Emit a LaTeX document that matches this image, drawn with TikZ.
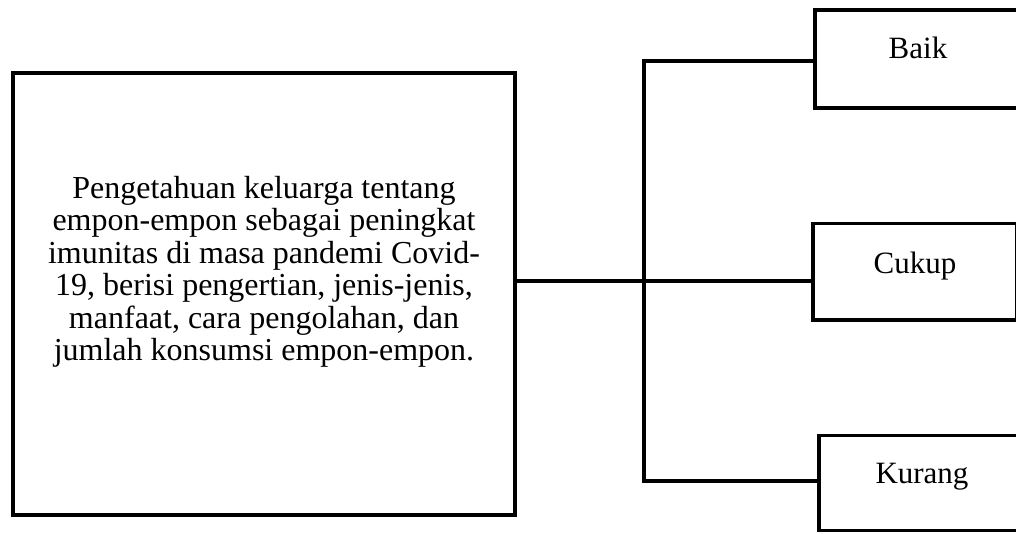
\documentclass[tikz,border=0pt]{standalone}
\usepackage{fontspec}
\setmainfont{Liberation Serif}
\tikzset{
  box/.style={draw=black, line width=3.6pt, minimum width=#1, inner sep=0pt},
  lbl/.style={font=\fontsize{31}{34}\selectfont, anchor=base},
  link/.style={line width=3.6pt}
}
\begin{document}
\begin{tikzpicture}[x=1pt, y=-1pt]
  \useasboundingbox (0,0) rectangle (1016,533);
  % --- main box ---
  \node[box=502.5pt, minimum height=442.5pt] (main) at (264,294) {};
  \node[font=\fontsize{32}{32.5}\selectfont, align=center] (desc) at (264,272)
    {Pengetahuan keluarga tentang\\
     empon-empon sebagai peningkat\\
     imunitas di masa pandemi Covid-\\
     19, berisi pengertian, jenis-jenis,\\
     manfaat, cara pengolahan, dan\\
     jumlah konsumsi empon-empon.};
  % --- categories ---
  \node[box=206pt, minimum height=98pt] (baik) at (918,59) {};
  \node[lbl] (tbaik) at (918,58) {Baik};
  \node[box=204pt, minimum height=96.5pt] (cukup) at (915,271.75) {};
  \node[lbl] (tcukup) at (915,273) {Cukup};
  \node[box=206pt, minimum height=95pt] (kurang) at (922,483) {};
  \node[lbl] (tkurang) at (922,483) {Kurang};
  % --- connectors ---
  \coordinate (jt) at (644,61);
  \coordinate (jm) at (644,281);
  \coordinate (jb) at (644,481);
  \draw[link] (main.east |- jm) -- (cukup.west |- jm);
  \draw[link] (baik.west |- jt) -- (jt) -- (jb) -- (kurang.west |- jb);
\end{tikzpicture}
\end{document}
